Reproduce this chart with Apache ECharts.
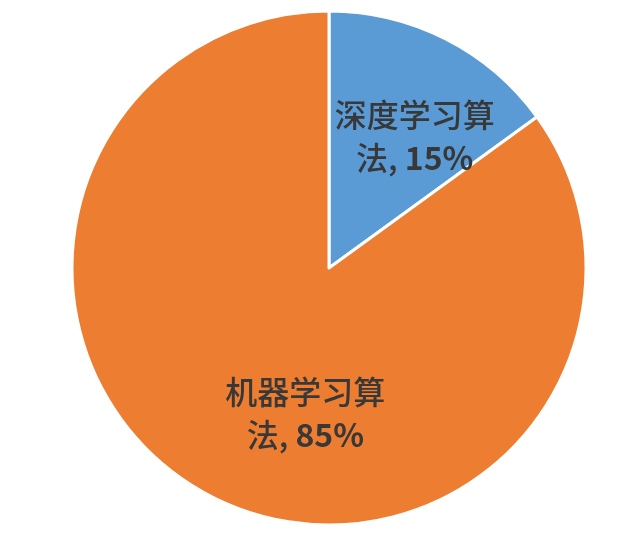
<!DOCTYPE html>
<html><head><meta charset="utf-8">
<script src="https://cdn.jsdelivr.net/npm/echarts@6/dist/echarts.min.js"></script>
<style>html,body{margin:0;padding:0;background:#fff}#c{width:634px;height:538px}</style>
</head><body><div id="c"></div>
<script>
const categories = ['深度学习算法', '机器学习算法'];
const values = [15, 85];
const colors = ['#5B9BD5', '#ED7D31'];
const labelLines = [['深度学习算', '法'], ['机器学习算', '法']];
const labelOffsets = [[26, -14], [36, 28]];

const chart = echarts.init(document.getElementById('c'));
chart.setOption({
  backgroundColor: '#fff',
  animation: false,
  series: [{
    type: 'pie',
    center: [329, 268],
    radius: [0, 257],
    startAngle: 90,
    clockwise: true,
    data: categories.map((n, i) => ({
      name: n, value: values[i],
      itemStyle: { color: colors[i] },
      label: { offset: labelOffsets[i] }
    })),
    itemStyle: { borderColor: '#fff', borderWidth: 3 },
    label: {
      show: true,
      position: 'inside',
      formatter: p => '{a|' + labelLines[p.dataIndex][0] + '}\n{a|' + labelLines[p.dataIndex][1] + ', }{b|' + p.value + '%}',
      rich: {
        a: { fontSize: 32, color: '#383838', fontFamily: 'Noto Sans CJK SC', fontWeight: 500, lineHeight: 43 },
        b: { fontSize: 32, color: '#383838', fontFamily: 'Noto Sans CJK SC', fontWeight: 'bold', lineHeight: 43 }
      }
    },
    labelLine: { show: false }
  }]
});
</script></body></html>
